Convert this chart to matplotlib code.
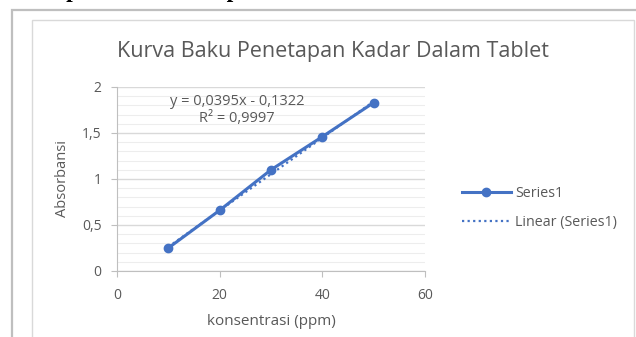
"""Kurva baku penetapan kadar dalam tablet (Excel-style scatter with trendline)."""
import numpy as np
import matplotlib.pyplot as plt
from matplotlib.patches import Rectangle
from matplotlib.lines import Line2D

# data
konsentrasi = [10, 20, 30, 40, 50]
absorbansi = [0.25, 0.66, 1.10, 1.46, 1.83]
slope, intercept = 0.0395, -0.1322
eq_text = "y = 0,0395x - 0,1322"
r2_text = "R² = 0,9997"
x_ticks = [0, 20, 40, 60]
y_ticks = [0, 0.5, 1, 1.5, 2]
y_ticklabels = ["0", "0,5", "1", "1,5", "2"]

BLUE = "#4472C4"
GREY_TXT = "#595959"
GRID = "#D9D9D9"
plt.rcParams["font.family"] = ["Open Sans", "DejaVu Sans"]

fig = plt.figure(figsize=(6.36, 3.37), dpi=100)
W, H = 636, 337

# page text above the chart, mostly cropped off (as in the screenshot)
fig.text(-2 / W, 1 + 9 / H, "Penetapan Kadar Sampel Dalam Tablet",
         family="Liberation Serif", weight="bold", fontsize=17,
         color="black", ha="left", va="center")

# outer frame and chart area border
fig.patches.append(Rectangle((12 / W, -0.1), 1.0, 1 - 10 / H + 0.1,
                             transform=fig.transFigure, fill=False,
                             edgecolor="#BFBFBF", linewidth=1.6))
fig.patches.append(Rectangle((32 / W, -0.1), 602 / W, 1 - 20 / H + 0.1,
                             transform=fig.transFigure, fill=False,
                             edgecolor="#D9D9D9", linewidth=1.0))

ax = fig.add_axes([117 / W, 66 / H, 308 / W, 184 / H])
ax.set_xlim(0, 60)
ax.set_ylim(0, 2)

ax.set_yticks(np.arange(0, 2.01, 0.1), minor=True)
ax.grid(True, which="major", axis="y", color=GRID, linewidth=1.0)
ax.grid(True, which="minor", axis="y", color="#EDEDED", linewidth=0.8)
ax.set_axisbelow(True)

x_fit = np.array([konsentrasi[0], konsentrasi[-1]])
ax.plot(x_fit, slope * x_fit + intercept, linestyle=(0, (1, 1.5)),
        color=BLUE, linewidth=1.6)
ax.plot(konsentrasi, absorbansi, "-o", color=BLUE, linewidth=2.2,
        markersize=6)

ax.set_xticks(x_ticks)
ax.set_yticks(y_ticks)
ax.set_yticklabels(y_ticklabels)
ax.tick_params(axis="x", which="major", length=4, color="#BFBFBF",
               labelcolor=GREY_TXT, labelsize=10, pad=8)
ax.tick_params(axis="y", which="major", length=4, color="#BFBFBF",
               labelcolor=GREY_TXT, labelsize=10, pad=7)
ax.tick_params(axis="y", which="minor", length=0)
for side in ["top", "right"]:
    ax.spines[side].set_visible(False)
for side in ["left", "bottom"]:
    ax.spines[side].set_color("#BFBFBF")

ax.set_xlabel("konsentrasi (ppm)", color=GREY_TXT, fontsize=11, labelpad=8)
ax.set_ylabel("Absorbansi", color=GREY_TXT, fontsize=10.5, labelpad=9)

ax.text(23.4, 1.75, eq_text + "\n" + r2_text, ha="center", va="center",
        fontsize=10.5, color=GREY_TXT, linespacing=1.15)

fig.text(333 / W, 1 - 51 / H, "Kurva Baku Penetapan Kadar Dalam Tablet",
         ha="center", va="center", fontsize=15.5, color=GREY_TXT)

handles = [Line2D([], [], color=BLUE, linewidth=2.2, marker="o",
                  markersize=6),
           Line2D([], [], color=BLUE, linewidth=1.6,
                  linestyle=(0, (1, 1.5)))]
fig.legend(handles, ["Series1", "Linear (Series1)"], loc="center left",
           bbox_to_anchor=(449 / W, 1 - 208 / H), frameon=False,
           fontsize=10.3, labelcolor=GREY_TXT, handlelength=3.4,
           handletextpad=0.3, labelspacing=1.0)

fig.savefig("out.png", dpi=100)
